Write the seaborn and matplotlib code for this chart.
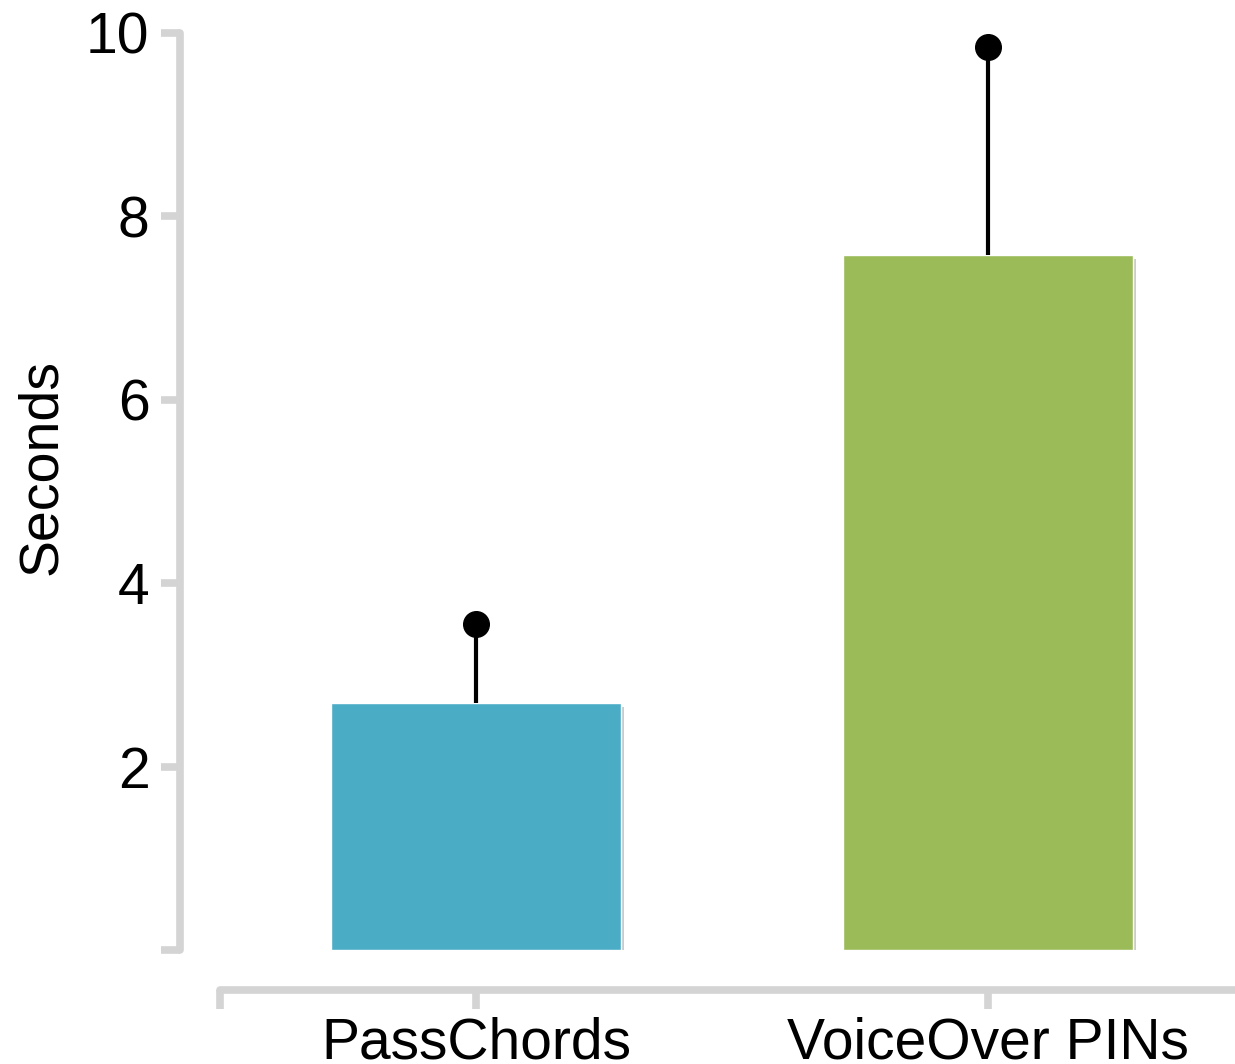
import matplotlib
matplotlib.use('Agg')
import matplotlib.pyplot as plt
import matplotlib.patheffects as pe
import seaborn as sns
import pandas as pd

# values
conditions = ['PassChords', 'VoiceOver PINs']
mean_seconds = [2.69, 7.58]
upper_seconds = [3.55, 9.85]
bar_colors = ['#4BACC6', '#9BBB59']
y_ticks = [0, 2, 4, 6, 8, 10]
y_tick_labels = ['', '2', '4', '6', '8', '10']

sns.set_style('white')
plt.rcParams['font.family'] = ['Liberation Sans', 'DejaVu Sans']

data = pd.DataFrame({'Condition': conditions, 'Seconds': mean_seconds})

fig = plt.figure(figsize=(12.35, 10.64), dpi=100)
ax = fig.add_axes([220 / 1235, 114 / 1064, 1024 / 1235, 917 / 1064])

sns.barplot(data=data, x='Condition', y='Seconds', hue='Condition',
            palette=bar_colors, width=0.567, saturation=1, legend=False, ax=ax)
for bar in ax.patches:
    bar.set_path_effects([pe.SimplePatchShadow(offset=(2, -3), alpha=0.25), pe.Normal()])

# upper error bars ending in a dot
ax.vlines(range(len(conditions)), mean_seconds, upper_seconds, color='black', lw=3, zorder=3)
ax.scatter(range(len(conditions)), upper_seconds, s=340, color='black', zorder=4, clip_on=False)

ax.set_ylim(0, 10)
ax.set_xlim(-0.5, 1.5)
ax.set_yticks(y_ticks)
ax.set_yticklabels(y_tick_labels)
ax.set_xticks([-0.5, 0, 1, 1.5])
ax.set_xticklabels(['', conditions[0], conditions[1], ''])
ax.set_xlabel('')
ax.set_ylabel('Seconds', fontsize=40, color='black')
ax.yaxis.set_label_coords(-0.148, 0.527)

sns.despine(ax=ax)
for side in ['left', 'bottom']:
    ax.spines[side].set_position(('outward', 28.8))
    ax.spines[side].set_color('#d4d4d4')
    ax.spines[side].set_linewidth(5.5)
    ax.spines[side].set_capstyle('round')

ax.tick_params(axis='both', which='major', direction='out', length=14, width=5.5,
               color='#d4d4d4', labelsize=41, labelcolor='black', left=True, bottom=True)
ax.tick_params(axis='y', pad=8)
ax.tick_params(axis='x', pad=5)

fig.savefig('out.png', dpi=100)
